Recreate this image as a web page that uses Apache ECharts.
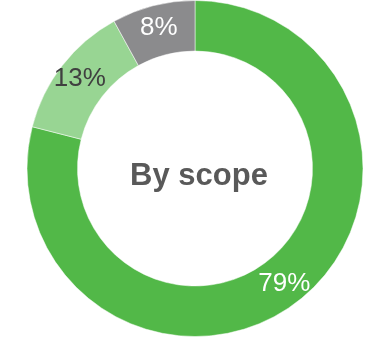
<!DOCTYPE html>
<html>
<head>
<meta charset="utf-8">
<script src="https://cdn.jsdelivr.net/npm/echarts@6/dist/echarts.min.js"></script>
<style>
  html, body { margin: 0; padding: 0; background: #fff; }
  #chart { width: 375px; height: 341px; }
</style>
</head>
<body>
<div id="chart"></div>
<script>
// Share of items by scope
const categories = ['Scope A', 'Scope B', 'Scope C'];
const shares = [79, 13, 8];
const sliceColors = ['#52b848', '#98d593', '#8b8b8d'];
const labelColors = ['#ffffff', '#404040', '#ffffff'];

const chart = echarts.init(document.getElementById('chart'), null, { renderer: 'canvas' });

chart.setOption({
  animation: false,
  title: {
    text: 'By scope',
    left: 194,
    top: 171,
    textAlign: 'center',
    textVerticalAlign: 'middle',
    textStyle: {
      fontFamily: 'Liberation Sans, Arial, sans-serif',
      fontSize: 31,
      fontWeight: 'bold',
      color: '#595959'
    }
  },
  series: [{
    type: 'pie',
    center: [195, 168.5],
    radius: [117.5, 168],
    startAngle: 90,
    clockwise: true,
    avoidLabelOverlap: false,
    silent: true,
    itemStyle: { borderColor: '#ffffff', borderWidth: 0.5 },
    label: {
      show: true,
      position: 'inside',
      formatter: '{c}%',
      fontFamily: 'Liberation Sans, Arial, sans-serif',
      fontSize: 26
    },
    labelLine: { show: false },
    data: categories.map((name, i) => ({
      name,
      value: shares[i],
      itemStyle: { color: sliceColors[i] },
      label: { color: labelColors[i] }
    }))
  }]
});
</script>
</body>
</html>
